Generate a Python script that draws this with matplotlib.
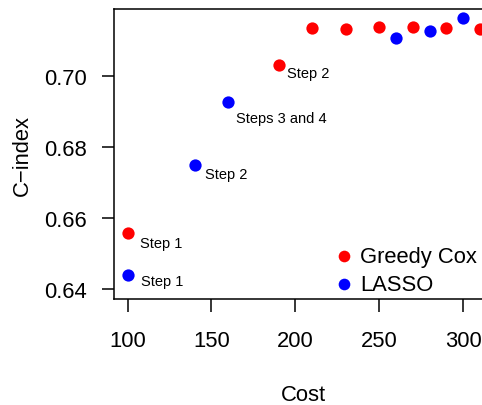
import matplotlib
matplotlib.use("Agg")
import matplotlib.pyplot as plt

plt.rcParams['font.family'] = ['Liberation Sans', 'DejaVu Sans']

# Greedy Cox selection path
greedy_cost = [100, 190, 210, 230, 250, 270, 290, 310]
greedy_cindex = [0.6557, 0.7032, 0.7136, 0.7134, 0.7139, 0.7140, 0.7136, 0.7134]

# LASSO selection path
lasso_cost = [100, 140, 160, 260, 280, 300]
lasso_cindex = [0.6438, 0.6750, 0.6928, 0.7110, 0.7129, 0.7165]

x_ticks = [100, 150, 200, 250, 300]
y_ticks = [0.64, 0.66, 0.68, 0.70]

# step annotations: (point index, text, offset in pixels)
greedy_labels = [(0, "Step 1", (12, -10)), (1, "Step 2", (8, -8))]
lasso_labels = [(0, "Step 1", (13, -6)), (1, "Step 2", (10, -9)), (2, "Steps 3 and 4", (8, -16))]

W, H = 482, 406
fig = plt.figure(figsize=(W / 100, H / 100), dpi=100)
left, top, bottom = 113.5, 10.3, 300.3
right = 494.0
ax = fig.add_axes([left / W, (H - bottom) / H, (right - left) / W, (bottom - top) / H])

ax.scatter(greedy_cost, greedy_cindex, s=78, color='#FF0000', linewidths=0, label='Greedy Cox', zorder=3)
ax.scatter(lasso_cost, lasso_cindex, s=78, color='#0000FF', linewidths=0, label='LASSO', zorder=3)

for i, txt, off in greedy_labels:
    ax.annotate(txt, (greedy_cost[i], greedy_cindex[i]), xytext=off, textcoords='offset pixels',
                ha='left', va='center', fontsize=10.5)
for i, txt, off in lasso_labels:
    ax.annotate(txt, (lasso_cost[i], lasso_cindex[i]), xytext=off, textcoords='offset pixels',
                ha='left', va='center', fontsize=10.5)

ax.set_xlim(91.6, 318.4)
ax.set_ylim(0.637, 0.719)
ax.set_xticks(x_ticks)
ax.set_xticklabels([str(v) for v in x_ticks])
ax.set_yticks(y_ticks)
ax.set_yticklabels([f"{v:.2f}" for v in y_ticks])
ax.tick_params(axis='both', length=9, width=1.1, labelsize=15.8, direction='out', color='black')
ax.tick_params(axis='x', pad=13)
ax.tick_params(axis='y', pad=10)
for sp in ax.spines.values():
    sp.set_linewidth(1.1)

ax.set_xlabel("Cost", fontsize=15.8, labelpad=24)
ax.set_ylabel("C\u2212index", fontsize=15.8, labelpad=8)

ax.legend(loc='upper left', bbox_to_anchor=((333 - left) / (right - left), (bottom - 247) / (bottom - top)),
          frameon=False, fontsize=15.8, markerscale=0.95, handletextpad=0.25, handlelength=1.0,
          labelspacing=0.3, borderpad=0, borderaxespad=0)

fig.savefig("out.png", dpi=100)
